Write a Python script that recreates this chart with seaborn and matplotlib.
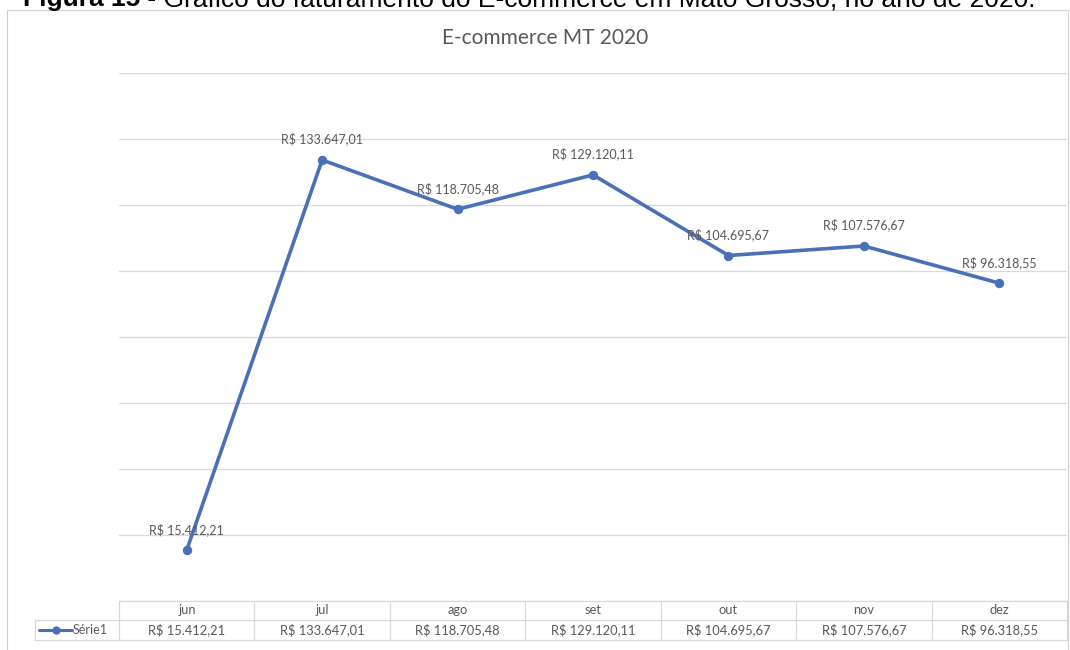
import matplotlib
matplotlib.use("Agg")
import matplotlib.pyplot as plt
import seaborn as sns
import pandas as pd
from matplotlib.lines import Line2D
from matplotlib.patches import Rectangle

# Monthly revenue of e-commerce in Mato Grosso, 2020
months = ["jun", "jul", "ago", "set", "out", "nov", "dez"]
revenue = [15412.21, 133647.01, 118705.48, 129120.11, 104695.67, 107576.67, 96318.55]
series_name = "Série1"
chart_title = "E-commerce MT 2020"
caption_bold = "Figura 15"
caption_rest = " - Gráfico do faturamento do E-commerce em Mato Grosso, no ano de 2020."


def brl(v):
    s = f"{v:,.2f}"
    s = s.replace(",", "X").replace(".", ",").replace("X", ".")
    return "R$ " + s


W, H = 1070, 650
LINE_COLOR = "#4A70B8"
TEXT_COLOR = "#595959"
GRID_COLOR = "#D9D9D9"

sns.set_theme(style="white")
plt.rcParams["font.family"] = ["Lato", "DejaVu Sans"]

fig = plt.figure(figsize=(W / 100, H / 100), dpi=100)
fig.patch.set_facecolor("white")


def fx(x):
    return x / W


def fy(y):
    return 1 - y / H


# chart-area border
fig.add_artist(Rectangle((fx(7), fy(652)), fx(1068) - fx(7), fy(10) - fy(652),
                         transform=fig.transFigure, fill=False,
                         edgecolor="#D0D0D0", linewidth=0.8))

# plot area
left, right, top, bottom = 119, 1067, 73, 601
ax = fig.add_axes([fx(left), fy(bottom), fx(right) - fx(left), fy(top) - fy(bottom)])
df = pd.DataFrame({"mes": months, "valor": revenue})
sns.lineplot(data=df, x="mes", y="valor", ax=ax, sort=False, color=LINE_COLOR,
             linewidth=2.6, marker="o", markersize=6, markeredgecolor=LINE_COLOR)
ax.set_xlim(-0.5, len(months) - 0.5)
ax.set_ylim(0, 160000)
ax.set_yticks(range(0, 160001, 20000))
ax.yaxis.grid(True, color=GRID_COLOR, linewidth=0.9)
ax.xaxis.grid(False)
ax.set_axisbelow(True)
ax.tick_params(left=False, bottom=False, labelleft=False, labelbottom=False)
ax.set_xlabel("")
ax.set_ylabel("")
for sp in ax.spines.values():
    sp.set_visible(False)

for i, v in enumerate(revenue):
    ax.annotate(brl(v), (i, v), xytext=(0, 15), textcoords="offset points",
                ha="center", va="center", fontsize=9, color=TEXT_COLOR)

fig.text(fx(545), fy(38), chart_title, ha="center", va="center",
         fontsize=15, color=TEXT_COLOR)

# data table below the plot area
col_w = (right - left) / len(months)
row1_top, row1_bot, row2_bot = 601, 620, 640
legend_left = 35


def hline(x0, x1, y):
    fig.add_artist(Line2D([fx(x0), fx(x1)], [fy(y), fy(y)], transform=fig.transFigure,
                          color=GRID_COLOR, linewidth=0.9))


def vline(x, y0, y1):
    fig.add_artist(Line2D([fx(x), fx(x)], [fy(y0), fy(y1)], transform=fig.transFigure,
                          color=GRID_COLOR, linewidth=0.9))


hline(left, right, row1_top)
hline(legend_left, right, row1_bot)
hline(legend_left, right, row2_bot)
vline(legend_left, row1_bot, row2_bot)
for k in range(len(months) + 1):
    vline(left + k * col_w, row1_top, row2_bot)

for i, (m, v) in enumerate(zip(months, revenue)):
    cx = left + (i + 0.5) * col_w
    fig.text(fx(cx), fy((row1_top + row1_bot) / 2), m, ha="center", va="center",
             fontsize=9.3, color=TEXT_COLOR)
    fig.text(fx(cx), fy((row1_bot + row2_bot) / 2), brl(v), ha="center", va="center",
             fontsize=9.3, color=TEXT_COLOR)

ly = (row1_bot + row2_bot) / 2
fig.add_artist(Line2D([fx(39), fx(72)], [fy(ly), fy(ly)], transform=fig.transFigure,
                      color=LINE_COLOR, linewidth=2.2, marker=None))
fig.add_artist(Line2D([fx(56)], [fy(ly)], transform=fig.transFigure,
                      color=LINE_COLOR, marker="o", markersize=5, linestyle="none"))
fig.text(fx(73), fy(ly), series_name, ha="left", va="center", fontsize=9, color=TEXT_COLOR)

# figure caption, partly above the top edge
cap_y = fy(6)
t1 = fig.text(fx(23), cap_y, caption_bold, ha="left", va="baseline", fontsize=19,
              fontweight="bold", family="Liberation Sans", color="black")
fig.canvas.draw()
bb = t1.get_window_extent()
fig.text(bb.x1 / W, cap_y, caption_rest, ha="left", va="baseline", fontsize=19,
         family="Liberation Sans", color="black")

fig.savefig("out.png", dpi=100, facecolor="white")
